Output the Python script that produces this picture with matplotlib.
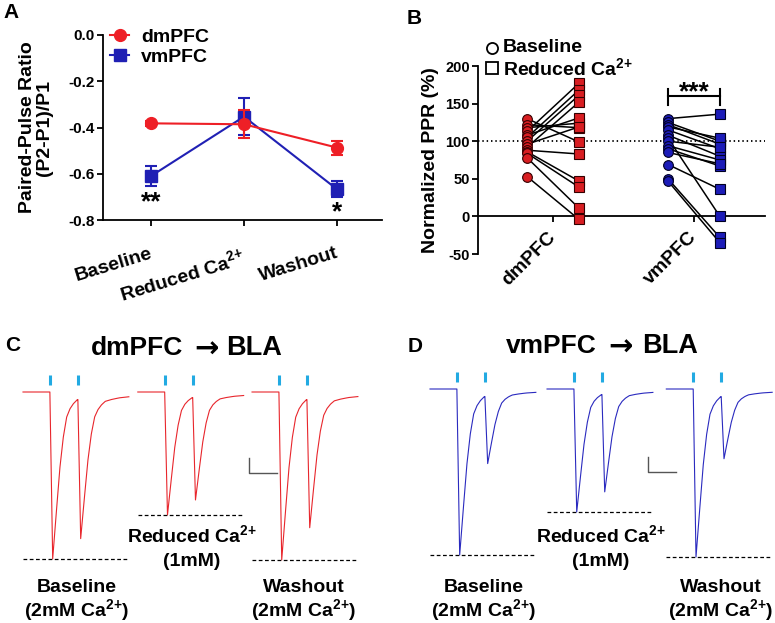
import numpy as np
import matplotlib.pyplot as plt
from matplotlib.lines import Line2D

plt.rcParams['font.family'] = ['Liberation Sans', 'DejaVu Sans']
plt.rcParams['font.weight'] = 'bold'
plt.rcParams['axes.labelweight'] = 'bold'
plt.rcParams['axes.unicode_minus'] = False
plt.rcParams['mathtext.fontset'] = 'custom'
plt.rcParams['mathtext.rm'] = 'Liberation Sans:bold'
plt.rcParams['mathtext.it'] = 'Liberation Sans:bold'
plt.rcParams['mathtext.bf'] = 'Liberation Sans:bold'
plt.rcParams['mathtext.default'] = 'rm'

CA = r"Ca$^{2{+}}$"

# ---- data ----
# panel A: paired-pulse ratio (mean, sem)
conditions = ["Baseline", "Reduced " + CA, "Washout"]
dm_ppr = [-0.382, -0.386, -0.487]
dm_sem = [0.012, 0.06, 0.03]
vm_ppr = [-0.61, -0.353, -0.667]
vm_sem = [0.043, 0.08, 0.035]
ppr_ticks = [-0.8, -0.6, -0.4, -0.2, 0.0]

# panel B: normalized PPR (%) per cell, baseline -> reduced Ca
dm_base = [130, 122, 118, 113, 108, 105, 100, 96, 92, 88, 86, 84, 78, 53]
dm_red = [99, 118, 124, 177, 131, 168, 161, 119, 152, 83, 47, 39, 11, -4]
vm_base = [130, 125, 122, 119, 115, 108, 104, 100, 94, 90, 85, 69, 50, 47]
vm_red = [136, 100, 96, 104, 90, 80, 0, 92, 75, 67, 70, 36, -28, -35]
groups = ["dmPFC", "vmPFC"]

# panels C/D: example EPSC traces
EPSC_T = [0, 5, 12, 18, 24, 30, 36, 42, 49, 60, 75, 95, 120, 145]      # ms after light pulse
EPSC_SHAPE = [0, 1.0, 0.70, 0.45, 0.27, 0.15, 0.10, 0.07, 0.046, 0.035, 0.025, 0.018, 0.014, 0.012]
STIM = [48, 98]          # ms, light pulses within each sweep
TRACE_LEN = 189          # ms
dm_amp1 = [1113, 820, 1120]   # pA, first EPSC (baseline, reduced, washout)
dm_amp2 = [933, 687, 860]     # pA, second EPSC
vm_amp1 = [1107, 820, 1120]
vm_amp2 = [453, 653, 420]

RED = '#ee1f26'
BLUE = '#2020b4'
CYAN = '#22aae2'

W, H = 775, 623
fig = plt.figure(figsize=(W / 100, H / 100), dpi=100)


def px_box(l, t, r, b):
    return [l / W, 1 - b / H, (r - l) / W, (b - t) / H]


def ftext(x, y, s, **kw):
    fig.text(x / W, 1 - y / H, s, **kw)


# ================= A =================
axA = fig.add_axes(px_box(103, 35, 382, 220))
xs = np.arange(3)
axA.errorbar(xs, vm_ppr, yerr=vm_sem, fmt='-s', color=BLUE, ms=8, lw=1.5,
             elinewidth=1.5, capsize=4, capthick=1.5, clip_on=False, zorder=3)
axA.errorbar(xs, dm_ppr, yerr=dm_sem, fmt='-o', color=RED, ms=8.5, lw=1.5,
             elinewidth=1.5, capsize=4, capthick=1.5, clip_on=False, zorder=4)
axA.set_xlim(-0.516, 2.484)
axA.set_ylim(-0.8, 0)
for s in ['top', 'right']:
    axA.spines[s].set_visible(False)
for s in ['left', 'bottom']:
    axA.spines[s].set_linewidth(1.3)
axA.set_yticks(ppr_ticks)
axA.set_yticklabels(['%.1f' % (v + 0.0) for v in ppr_ticks])
axA.set_xticks(xs)
axA.set_xticklabels([])
axA.tick_params(length=4, width=1.3, labelsize=11, pad=2)
for i, lab in enumerate(conditions):
    dy = -31 if i == 1 else -27
    axA.annotate(lab, xy=(i, 0), xycoords=('data', 'axes fraction'),
                 xytext=(1.5, dy), textcoords='offset points', rotation=17,
                 rotation_mode='anchor', ha='right', va='baseline', fontsize=14)
axA.set_ylabel("Paired-Pulse Ratio\n(P2-P1)/P1", fontsize=14, linespacing=0.95)
axA.yaxis.set_label_coords(-0.18, 0.5)
handles = [Line2D([], [], color=RED, marker='o', ms=8.5, lw=1.5),
           Line2D([], [], color=BLUE, marker='s', ms=8, lw=1.5)]
axA.legend(handles, ['dmPFC', 'vmPFC'], loc='upper left', bbox_to_anchor=(0.025, 1.035),
           frameon=False, fontsize=14, handlelength=1.0, handletextpad=0.6,
           labelspacing=0.1, borderpad=0, borderaxespad=0)
axA.text(0, -0.753, '**', ha='center', va='baseline', fontsize=19)
axA.text(2, -0.796, '*', ha='center', va='baseline', fontsize=19)

# ================= B =================
axB = fig.add_axes(px_box(478, 66, 765, 254))
off = 0.184
for b, r in zip(dm_base, dm_red):
    axB.plot([1 - off, 1 + off], [b, r], color='k', lw=1.1, zorder=2)
for b, r in zip(vm_base, vm_red):
    axB.plot([2 - off, 2 + off], [b, r], color='k', lw=1.1, zorder=2)
axB.plot([1 - off] * len(dm_base), dm_base, 'o', mfc='#d81e22', mec='#300', mew=0.8, ms=7, zorder=3, clip_on=False)
axB.plot([1 + off] * len(dm_red), dm_red, 's', mfc='#d81e22', mec='#300', mew=0.8, ms=7, zorder=3, clip_on=False)
axB.plot([2 - off] * len(vm_base), vm_base, 'o', mfc='#1c1cb8', mec='#002', mew=0.8, ms=7, zorder=3, clip_on=False)
axB.plot([2 + off] * len(vm_red), vm_red, 's', mfc='#1c1cb8', mec='#002', mew=0.8, ms=7, zorder=3, clip_on=False)
axB.axhline(100, color='k', ls=(0, (0.8, 1.6)), lw=1.3, zorder=1)
axB.set_xlim(0.468, 2.504)
axB.set_ylim(-50, 200)
for s in ['top', 'right']:
    axB.spines[s].set_visible(False)
axB.spines['left'].set_linewidth(1.3)
axB.spines['bottom'].set_linewidth(1.3)
axB.spines['bottom'].set_position(('data', 0))
axB.set_yticks(np.arange(-50, 201, 50))
axB.set_xticks([1, 2])
axB.set_xticklabels([])
axB.tick_params(length=4, width=1.3, labelsize=10.5, pad=2)
for i, g in enumerate(groups):
    axB.annotate(g, xy=(i + 1, 0), xycoords='data', xytext=(-4, -9),
                 textcoords='offset points', rotation=45, rotation_mode='anchor',
                 ha='right', va='top', fontsize=14)
axB.set_ylabel("Normalized PPR (%)", fontsize=14)
axB.yaxis.set_label_coords(-0.136, 0.5)
# significance bracket
axB.plot([2 - off, 2 + off], [160, 160], color='k', lw=1.5)
axB.plot([2 - off, 2 - off], [148, 169], color='k', lw=1.5)
axB.plot([2 + off, 2 + off], [148, 169], color='k', lw=1.5)
axB.text(2, 156, '***', ha='center', va='baseline', fontsize=19)
# legend
axB.plot([0.049], [1.096], transform=axB.transAxes, marker='o', mfc='none', mec='k',
         mew=1.3, ms=8, clip_on=False)
axB.plot([0.049], [0.989], transform=axB.transAxes, marker='s', mfc='none', mec='k',
         mew=1.3, ms=8, clip_on=False)
axB.text(0.087, 1.096, 'Baseline', transform=axB.transAxes, va='center', fontsize=14)
axB.text(0.087, 0.989, 'Reduced ' + CA, transform=axB.transAxes, va='center', fontsize=14)

# ================= C / D =================
PX_MS = 0.56
PX_PA = 0.15


def trace_axes(l, t, r, b, x0, y0):
    ax = fig.add_axes(px_box(l, t, r, b))
    ax.set_xlim((l - x0) / PX_MS, (r - x0) / PX_MS)
    ax.set_ylim(-(b - y0) / PX_PA, (y0 - t) / PX_PA)
    ax.axis('off')
    return ax


def draw_traces(ax, amp1, amp2, offsets, color, bar_x, bar_y):
    t_pts = [0.0, TRACE_LEN] + [STIM[0] + x for x in EPSC_T] + [STIM[1] + x for x in EPSC_T]
    t = np.array(sorted(set(v for v in t_pts if v <= TRACE_LEN)))
    for o, a1, a2 in zip(offsets, amp1, amp2):
        cur = -(a1 * np.interp(t - STIM[0], EPSC_T, EPSC_SHAPE, left=0)
                + a2 * np.interp(t - STIM[1], EPSC_T, EPSC_SHAPE, left=0))
        ax.plot(o + t, cur, color=color, lw=0.8)
        ax.vlines([o + s for s in STIM], 45, 115, color=CYAN, lw=2.2)
        ax.hlines(cur.min(), o, o + TRACE_LEN - 2, color='k', lw=0.9, linestyles=(0, (3, 2)))
    ax.plot([bar_x, bar_x, bar_x + 50], [bar_y + 100, bar_y, bar_y], color='#555555', lw=1)


axC = trace_axes(0, 360, 390, 575, 23, 392)
draw_traces(axC, dm_amp1, dm_amp2, [0, 205, 409], '#e8262c', 403.6, -540)
axD = trace_axes(390, 360, 775, 575, 430, 389)
draw_traces(axD, vm_amp1, vm_amp2, [0, 209, 422], '#2a2abf', 389, -553)

trace_labels = [("Baseline", "(2mM " + CA + ")"), ("Reduced " + CA, "(1mM)"),
                ("Washout", "(2mM " + CA + ")")]
label_rows = [(592, 616), (542, 566), (592, 616)]
for xc_list in ([77, 192, 304], [484, 601, 721]):
    for xc, (l1, l2), (y1, y2) in zip(xc_list, trace_labels, label_rows):
        ftext(xc, y1, l1, ha='center', va='baseline', fontsize=14)
        ftext(xc, y2, l2, ha='center', va='baseline', fontsize=14)


def arrow_title(x_left_end, x_arrow, x_right_start, y_base, left, right):
    ftext(x_left_end, y_base, left, ha='right', va='baseline', fontsize=19)
    ftext(x_arrow, y_base + 3, "\u2192", ha='center', va='baseline', fontsize=21,
          family='DejaVu Sans')
    ftext(x_right_start, y_base, right, ha='left', va='baseline', fontsize=19.5)


arrow_title(183, 207, 226, 355, "dmPFC", "BLA")
arrow_title(597, 620, 642, 353, "vmPFC", "BLA")

# panel letters
for x, y, s in [(11.5, 12.5, 'A'), (414, 18.5, 'B'), (12.5, 345.5, 'C'), (415.5, 346, 'D')]:
    ftext(x, y, s, ha='center', va='center', fontsize=15)

fig.savefig('out.png', dpi=100)
